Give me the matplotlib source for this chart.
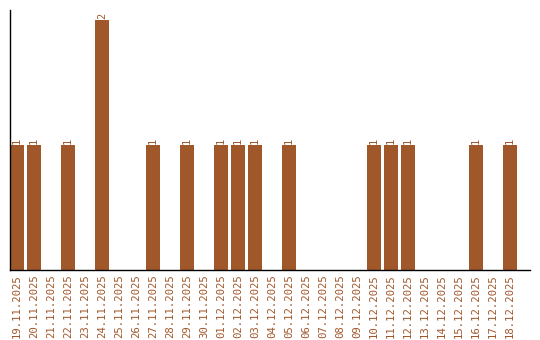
import matplotlib
matplotlib.use("Agg")
import matplotlib.pyplot as plt

dates = ["19.11.2025", "20.11.2025", "21.11.2025", "22.11.2025", "23.11.2025",
         "24.11.2025", "25.11.2025", "26.11.2025", "27.11.2025", "28.11.2025",
         "29.11.2025", "30.11.2025", "01.12.2025", "02.12.2025", "03.12.2025",
         "04.12.2025", "05.12.2025", "06.12.2025", "07.12.2025", "08.12.2025",
         "09.12.2025", "10.12.2025", "11.12.2025", "12.12.2025", "13.12.2025",
         "14.12.2025", "15.12.2025", "16.12.2025", "17.12.2025", "18.12.2025"]
values = [1, 1, 0, 1, 0, 2, 0, 0, 1, 0, 1, 0, 1, 1, 1, 0, 1, 0, 0, 0, 0, 1, 1, 1, 0, 0, 0, 1, 0, 1]

color = "#A0572A"
fig = plt.figure(figsize=(5.4, 3.4), dpi=100)
ax = fig.add_axes([10/540, 70/340, 520/540, 260/340])
x = list(range(len(dates)))
ax.bar(x, values, width=0.82, align="edge", color=color)
ax.set_xlim(0, 520/17)
ax.set_ylim(0, 2.08)
for xi, v in zip(x, values):
    if v > 0:
        ax.text(xi + 0.41, v + 0.01, str(v), rotation=90, ha="center", va="bottom",
                fontsize=7.5, color=color, family="DejaVu Sans Mono")
ax.set_xticks([xi + 0.41 for xi in x])
ax.set_xticklabels(dates, rotation=90, fontsize=7.7, color=color, family="DejaVu Sans Mono")
ax.tick_params(axis="x", length=0, pad=3)
ax.set_yticks([])
for s in ["top", "right"]:
    ax.spines[s].set_visible(False)
ax.spines["left"].set_linewidth(1)
ax.spines["bottom"].set_linewidth(1)
fig.savefig("out.png", dpi=100)
